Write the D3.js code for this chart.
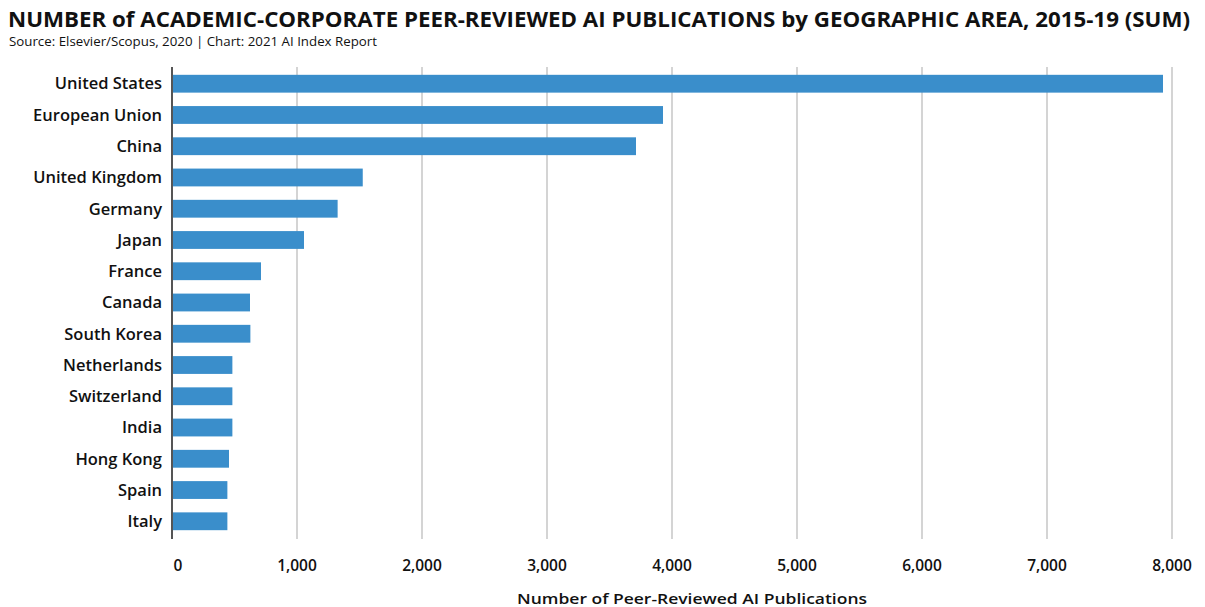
<!DOCTYPE html>
<html>
<head>
<meta charset="utf-8">
<script src="https://cdn.jsdelivr.net/npm/d3@7"></script>
<style>
  body { margin: 0; background: #fff; }
  text { font-family: "Open Sans", Lato, sans-serif; fill: #111; }
</style>
</head>
<body>
<div id="chart"></div>
<script>
const countries = ["United States", "European Union", "China", "United Kingdom", "Germany", "Japan",
    "France", "Canada", "South Korea", "Netherlands", "Switzerland", "India", "Hong Kong", "Spain", "Italy"];
const publications = [7928, 3928, 3712, 1526, 1325, 1056, 712, 624, 627, 483, 483, 483, 456, 443, 443];
const tickValues = [0, 1000, 2000, 3000, 4000, 5000, 6000, 7000, 8000];

let width = 1205, height = 607,
    margin = {top: 67, right: 33, bottom: 69, left: 172};

let data = countries.map(function(c, i) { return {name: c, value: publications[i]}; });

let x = d3.scaleLinear()
    .domain([0, 8000])
    .range([margin.left, width - margin.right]);

let y = d3.scaleBand()
    .domain(countries)
    .range([margin.top, height - margin.bottom])
    .paddingInner(0.43)
    .paddingOuter(0.25);

var svg = d3.select("#chart").append("svg")
    .attr("width", width)
    .attr("height", height);

// title + source
svg.append("text")
    .attr("x", 8).attr("y", 27)
    .attr("font-size", 21).attr("font-weight", 700)
    .attr("textLength", 1182).attr("lengthAdjust", "spacingAndGlyphs")
    .text("NUMBER of ACADEMIC-CORPORATE PEER-REVIEWED AI PUBLICATIONS by GEOGRAPHIC AREA, 2015-19 (SUM)");
svg.append("text")
    .attr("x", 9).attr("y", 46)
    .attr("font-size", 12)
    .attr("textLength", 368).attr("lengthAdjust", "spacingAndGlyphs")
    .text("Source: Elsevier/Scopus, 2020 | Chart: 2021 AI Index Report");

// gridlines
svg.selectAll("line.grid")
    .data(tickValues.slice(1))
    .enter().append("line")
    .attr("class", "grid")
    .attr("x1", function(d) { return x(d); })
    .attr("x2", function(d) { return x(d); })
    .attr("y1", margin.top)
    .attr("y2", height - margin.bottom + 1)
    .style("stroke", "#d4d4d4")
    .style("stroke-width", 2);

// bars
svg.selectAll("rect.bar")
    .data(data)
    .enter().append("rect")
    .attr("class", "bar")
    .attr("x", x(0))
    .attr("y", function(d) { return y(d.name); })
    .attr("width", function(d) { return x(d.value) - x(0); })
    .attr("height", y.bandwidth())
    .style("fill", "#3a8ecb");

// zero line
svg.append("line")
    .attr("x1", x(0)).attr("x2", x(0))
    .attr("y1", margin.top).attr("y2", height - margin.bottom + 1)
    .style("stroke", "#555")
    .style("stroke-width", 2);

// category labels
svg.selectAll("text.cat")
    .data(data)
    .enter().append("text")
    .attr("class", "cat")
    .attr("x", x(0) - 10)
    .attr("y", function(d) { return y(d.name) + y.bandwidth() / 2; })
    .attr("dy", "0.35em")
    .attr("text-anchor", "end")
    .attr("font-size", 16.5)
    .attr("font-weight", 600)
    .text(function(d) { return d.name; });

// x tick labels
svg.selectAll("text.tick")
    .data(tickValues)
    .enter().append("text")
    .attr("class", "tick")
    .attr("x", function(d) { return x(d) + (d === 0 ? 6 : 0); })
    .attr("y", 571)
    .attr("text-anchor", "middle")
    .attr("font-size", 15.5)
    .attr("font-weight", 600)
    .text(function(d) { return d3.format(",")(d); });

svg.append("text")
    .attr("x", 692).attr("y", 604)
    .attr("text-anchor", "middle")
    .attr("font-size", 15)
    .attr("font-weight", 600)
    .attr("textLength", 350).attr("lengthAdjust", "spacingAndGlyphs")
    .text("Number of Peer-Reviewed AI Publications");
</script>
</body>
</html>
